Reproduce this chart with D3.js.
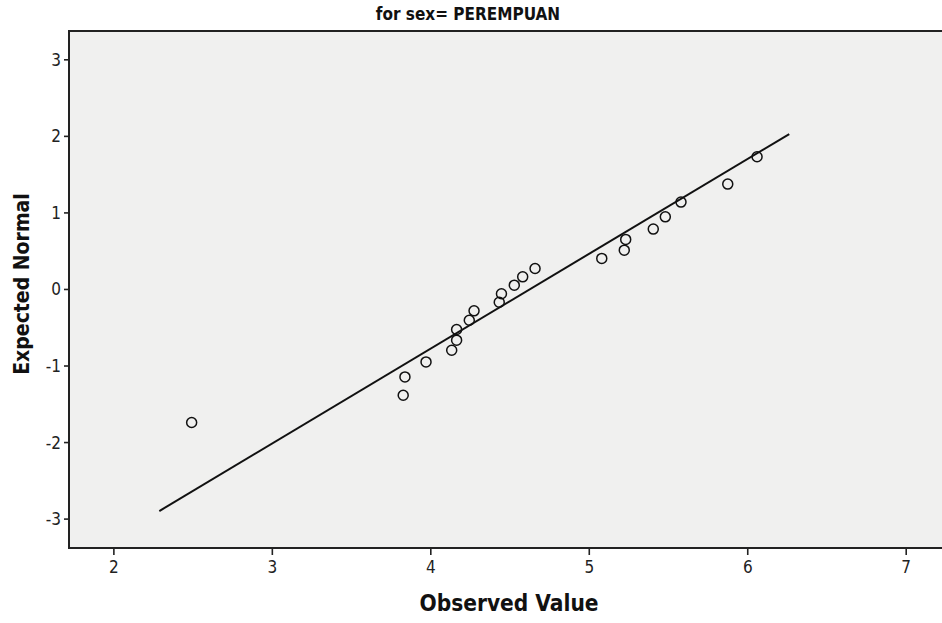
<!DOCTYPE html>
<html>
<head>
<meta charset="utf-8">
<script src="https://cdn.jsdelivr.net/npm/d3@7"></script>
<style>
  html, body { margin: 0; padding: 0; background: #ffffff; }
  svg { display: block; }
</style>
</head>
<body>
<svg id="chart" width="942" height="623"></svg>
<script>
// ---- data ----
const title = "for sex= PEREMPUAN";
const xLabel = "Observed Value";
const yLabel = "Expected Normal";
const observed = [2.494, 3.829, 3.840, 3.973, 4.135, 4.166, 4.166, 4.246, 4.276, 4.435, 4.449,
                  4.530, 4.583, 4.661, 5.082, 5.224, 5.233, 5.407, 5.483, 5.582, 5.877, 6.062];
const expected = [-1.745, -1.388, -1.149, -0.953, -0.800, -0.669, -0.529, -0.408, -0.286, -0.173, -0.063,
                  0.050, 0.158, 0.268, 0.399, 0.507, 0.647, 0.782, 0.942, 1.135, 1.370, 1.727];
const lineX = [2.290, 6.265];
const lineY = [-2.901, 2.024];
const xTicks = [2, 3, 4, 5, 6, 7];
const yTicks = [-3, -2, -1, 0, 1, 2, 3];
const xDomain = [1.720, 7.229];
const yDomain = [-3.384, 3.370];

// ---- layout ----
const plot = { left: 69, top: 31, right: 942, bottom: 548 };

const svg = d3.select("#chart");
const x = d3.scaleLinear().domain(xDomain).range([plot.left, plot.right]);
const y = d3.scaleLinear().domain(yDomain).range([plot.bottom, plot.top]);

const narrow = "'Liberation Sans Narrow', 'DejaVu Sans Condensed', 'Liberation Sans', Arial, sans-serif";
const fmt = d => String(d);   // plain hyphen-minus, as in the reference

// plot background
svg.append("rect")
  .attr("x", plot.left).attr("y", plot.top)
  .attr("width", plot.right - plot.left).attr("height", plot.bottom - plot.top)
  .attr("fill", "#f0f0ef");

// axes
const xAxis = d3.axisBottom(x).tickValues(xTicks).tickSize(7).tickPadding(6).tickFormat(fmt);
const yAxis = d3.axisLeft(y).tickValues(yTicks).tickSize(5).tickPadding(3).tickFormat(fmt);

const gx = svg.append("g").attr("transform", `translate(0,${plot.bottom})`).call(xAxis);
const gy = svg.append("g").attr("transform", `translate(${plot.left},0)`).call(yAxis);
[gx, gy].forEach(g => {
  g.select(".domain").remove();
  g.selectAll(".tick line").attr("stroke", "#222").attr("stroke-width", 1.6);
  g.selectAll(".tick text").attr("fill", "#222")
    .style("font-family", narrow).style("font-size", "17px");
});
gy.selectAll(".tick text").attr("dy", "0.35em");

// frame lines (left, top, bottom)
svg.append("path")
  .attr("d", `M${plot.right},${plot.top}H${plot.left}V${plot.bottom}H${plot.right}`)
  .attr("fill", "none").attr("stroke", "#222").attr("stroke-width", 2);

// reference line
svg.append("line")
  .attr("x1", x(lineX[0])).attr("y1", y(lineY[0]))
  .attr("x2", x(lineX[1])).attr("y2", y(lineY[1]))
  .attr("stroke", "#111").attr("stroke-width", 2);

// points
svg.append("g").selectAll("circle")
  .data(observed.map((v, i) => [v, expected[i]]))
  .join("circle")
  .attr("cx", d => x(d[0])).attr("cy", d => y(d[1]))
  .attr("r", 5)
  .attr("fill", "none").attr("stroke", "#111").attr("stroke-width", 1.5);

// title
svg.append("text")
  .attr("x", 468).attr("y", 20)
  .attr("text-anchor", "middle")
  .style("font-family", narrow).style("font-size", "17px").style("font-weight", "bold")
  .attr("fill", "#111")
  .text(title);

// axis titles
svg.append("text")
  .attr("x", 509).attr("y", 611)
  .attr("text-anchor", "middle")
  .style("font-family", narrow).style("font-size", "22.5px").style("font-weight", "bold")
  .attr("fill", "#111")
  .text(xLabel);

svg.append("text")
  .attr("transform", `translate(29,284) rotate(-90)`)
  .attr("text-anchor", "middle")
  .style("font-family", narrow).style("font-size", "21px").style("font-weight", "bold")
  .attr("fill", "#111")
  .text(yLabel);
</script>
</body>
</html>
